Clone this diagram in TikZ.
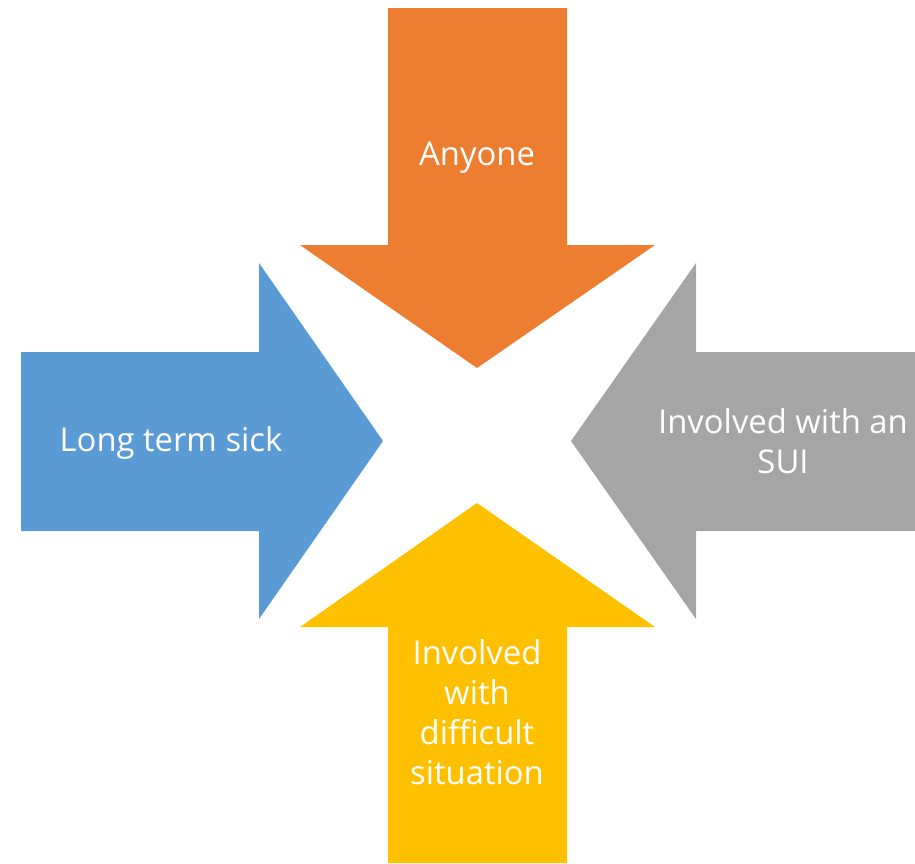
\documentclass[tikz,border=0pt]{standalone}
\usepackage{fontspec}
\setmainfont{Open Sans}
\definecolor{arrOrange}{HTML}{ED7D31}
\definecolor{arrBlue}{HTML}{5B9BD5}
\definecolor{arrGray}{HTML}{A5A5A5}
\definecolor{arrYellow}{HTML}{FFC000}
\tikzset{
  lbl/.style={text=white, font=\fontsize{32.8}{40}\selectfont, align=center, inner sep=0pt}
}
\begin{document}
\begin{tikzpicture}[x=1pt,y=-1pt]
\useasboundingbox (0,0) rectangle (915,863);
% top (orange)
\fill[arrOrange] (388,8) -- (567,8) -- (567,245) -- (655,245) -- (477,368) -- (300,245) -- (388,245) -- cycle;
% left (blue)
\fill[arrBlue] (21,352) -- (259,352) -- (259,263) -- (383,441) -- (259,619) -- (259,531) -- (21,531) -- cycle;
% right (gray)
\fill[arrGray] (915,352) -- (696,352) -- (696,263) -- (571,441) -- (696,619) -- (696,531) -- (915,531) -- cycle;
% bottom (yellow)
\fill[arrYellow] (388,863) -- (567,863) -- (567,627) -- (655,627) -- (477,503) -- (300,627) -- (388,627) -- cycle;
\node[lbl] (top) at (477,158) {Anyone};
\node[lbl] (left) at (171,443) {Long term sick};
\node[lbl] (right) at (783,441) {Involved with an\\SUI};
\node[lbl] (bottom) at (477,712) {Involved\\with\\difficult\\situation};
\end{tikzpicture}
\end{document}
